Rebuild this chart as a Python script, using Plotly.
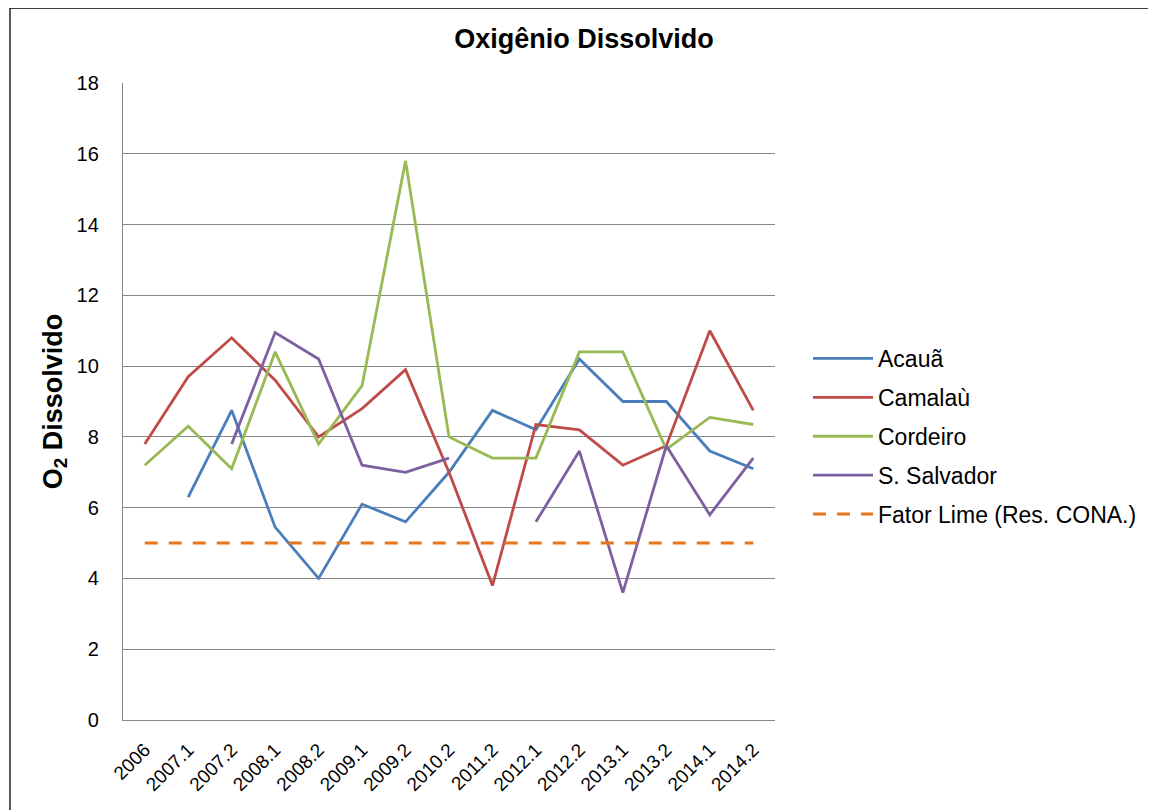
import plotly.graph_objects as go

categories = ["2006", "2007.1", "2007.2", "2008.1", "2008.2", "2009.1", "2009.2",
              "2010.2", "2011.2", "2012.1", "2012.2", "2013.1", "2013.2", "2014.1", "2014.2"]

acaua = [None, 6.3, 8.75, 5.45, 4.0, 6.1, 5.6, 7.0, 8.75, 8.2, 10.2, 9.0, 9.0, 7.6, 7.1]
camalau = [7.8, 9.7, 10.8, 9.6, 8.0, 8.8, 9.9, 7.0, 3.8, 8.35, 8.2, 7.2, 7.75, 11.0, 8.75]
cordeiro = [7.2, 8.3, 7.1, 10.4, 7.8, 9.45, 15.8, 8.0, 7.4, 7.4, 10.4, 10.4, 7.65, 8.55, 8.35]
s_salvador = [None, None, 7.8, 10.95, 10.2, 7.2, 7.0, 7.4, None, 5.6, 7.6, 3.6, 7.75, 5.8, 7.4]
fator_limite = [5] * 15

series = [
    ("Acauã", acaua, "#4A7EBB", "solid"),
    ("Camalaù", camalau, "#BE4B48", "solid"),
    ("Cordeiro", cordeiro, "#98B954", "solid"),
    ("S. Salvador", s_salvador, "#7D60A0", "solid"),
    ("Fator Lime (Res. CONA.)", fator_limite, "#E4761E", "13px,11px"),
]

font_family = "Liberation Sans, Arial, sans-serif"

# The page adds an 8px body margin; the figure is sized to fill the rest of the window.
W, H = 1148, 802
OFF = 8

fig = go.Figure()
for i, (name, vals, color, dash) in enumerate(series):
    fig.add_trace(go.Scatter(
        x=categories, y=vals, name=name, mode="lines",
        line=dict(color=color, width=2.8 if dash == "solid" else 3, dash=dash),
        connectgaps=False, legendgroup=f"g{i}",
    ))

fig.update_layout(
    width=W, height=H,
    margin=dict(l=123 - OFF, r=W - (775 - OFF), t=83 - OFF, b=H - (720 - OFF)),
    paper_bgcolor="white", plot_bgcolor="white",
    font=dict(family=font_family, color="#000000", size=20),
    title=dict(text="<b>Oxigênio Dissolvido</b>", x=(584 - OFF) / W, xanchor="center",
               y=1 - (39 - OFF) / H, yanchor="middle",
               font=dict(size=27, family=font_family, color="#000000")),
    showlegend=True,
    legend=dict(x=(808 - 123) / 652, xanchor="left", y=(720 - 337) / 637, yanchor="top",
                font=dict(size=23, family=font_family, color="#000000"),
                tracegroupgap=6, bgcolor="rgba(0,0,0,0)", itemwidth=60),
    xaxis=dict(type="category", range=[-0.5, 14.5], tickangle=-45,
               showgrid=False, showline=True, linecolor="#868686", linewidth=1.4,
               ticks="", ticklabelstandoff=10,
               tickfont=dict(size=19, family=font_family, color="#000000"),
               zeroline=False),
    yaxis=dict(range=[0, 18], dtick=2, showgrid=True, gridcolor="#868686", gridwidth=1.4,
               showline=True, linecolor="#868686", linewidth=1.4, zeroline=False,
               ticks="", ticklen=0, ticklabelstandoff=19,
               tickfont=dict(size=20, family=font_family, color="#000000"),
               title=dict(text="<b>O<sub>2</sub> Dissolvido</b>", standoff=6,
                          font=dict(size=27, family=font_family, color="#000000"))),
    shapes=[
        dict(type="line", xref="paper", yref="paper",
             x0=(10 - 123) / 652, x1=(1160 - 123) / 652,
             y0=(720 - 8) / 637, y1=(720 - 8) / 637,
             line=dict(color="#000000", width=1.3)),
        dict(type="line", xref="paper", yref="paper",
             x0=(10 - 123) / 652, x1=(10 - 123) / 652,
             y0=(720 - 8) / 637, y1=(720 - 815) / 637,
             line=dict(color="#000000", width=1.3)),
    ],
)

fig.write_html("out.html")
